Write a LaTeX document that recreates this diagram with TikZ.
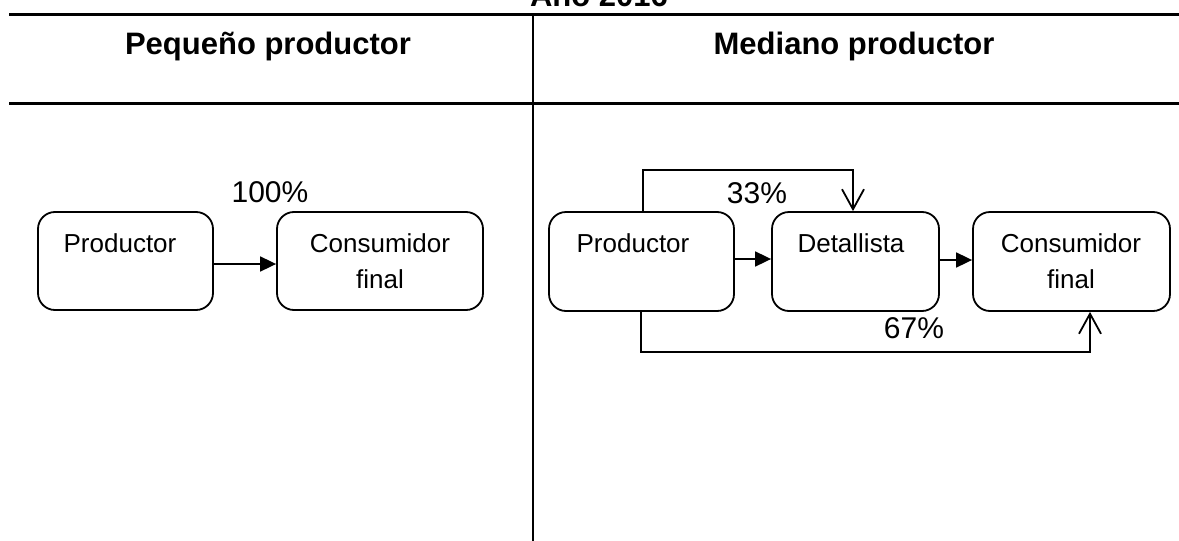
\documentclass[tikz,border=0pt]{standalone}
\usepackage{fontspec}
\setmainfont{Liberation Sans}
\usetikzlibrary{arrows.meta}
\begin{document}
\begin{tikzpicture}[x=1pt,y=-1pt,
  box/.style={draw, line width=1.8pt, rounded corners=17pt, inner sep=0pt},
  boxtext/.style={anchor=base, inner sep=0pt, font=\fontsize{26}{31}\selectfont},
  pct/.style={anchor=base, inner sep=0pt, font=\fontsize{30}{36}\selectfont},
  head/.style={anchor=base, inner sep=0pt, font=\fontsize{31}{37}\selectfont\bfseries},
  conn/.style={line width=1.8pt},
  farrow/.style={conn, -{Triangle[length=16pt,width=15pt]}},
  oarrow/.style={conn, -{Straight Barb[length=20pt,width=22pt,line width=1.8pt]}}]
\useasboundingbox (0,0) rectangle (1179,541);
\clip (0,0) rectangle (1179,541);
% table
\coordinate (tl) at (9,14);
\coordinate (tr) at (1179,14);
\coordinate (ml) at (9,103);
\coordinate (mr) at (1179,103);
\coordinate (vt) at (533,14);
\coordinate (vb) at (533,541);
\draw[line width=3pt] (tl) -- (tr);
\draw[line width=3pt] (ml) -- (mr);
\draw[line width=2pt] (vt) -- (vb);
\node[head] (title) at (599,6) {Año 2016};
\node[head] (h1) at (268,54) {Pequeño productor};
\node[head] (h2) at (854,54) {Mediano productor};
% left side
\node[box, minimum width=175pt, minimum height=98pt] (p1) at (125.5,261) {};
\node[box, minimum width=206pt, minimum height=98pt] (c1) at (380,261) {};
\node[boxtext] (p1t) at (120,252) {Productor};
\node[boxtext] (c1t) at (380,252) {Consumidor};
\node[boxtext] (c1t2) at (380,288) {final};
\node[pct] (l100) at (270,202) {100\%};
\draw[farrow] (p1.east |- 0,264) -- (c1.west |- 0,264);
% right side
\node[box, minimum width=185pt, minimum height=99pt] (p2) at (641.5,261.5) {};
\node[box, minimum width=167pt, minimum height=99pt] (d2) at (855.5,261.5) {};
\node[box, minimum width=197pt, minimum height=99pt] (c2) at (1071.5,261.5) {};
\node[boxtext] (p2t) at (633,252) {Productor};
\node[boxtext] (d2t) at (851,252) {Detallista};
\node[boxtext] (c2t) at (1071,252) {Consumidor};
\node[boxtext] (c2t2) at (1071,288) {final};
\draw[farrow] (p2.east |- 0,259) -- (d2.west |- 0,259);
\draw[farrow] (d2.east |- 0,260) -- (c2.west |- 0,260);
\coordinate (t1) at (643,170);
\coordinate (t2) at (853,170);
\draw[oarrow] (t1 |- p2.north) -- (t1) -- (t2) -- (t2 |- d2.north);
\coordinate (b1) at (641,352);
\coordinate (b2) at (1090,352);
\draw[oarrow] (b1 |- p2.south) -- (b1) -- (b2) -- (b2 |- c2.south);
\node[pct] (l33) at (757,203) {33\%};
\node[pct] (l67) at (914,338) {67\%};
\end{tikzpicture}
\end{document}
